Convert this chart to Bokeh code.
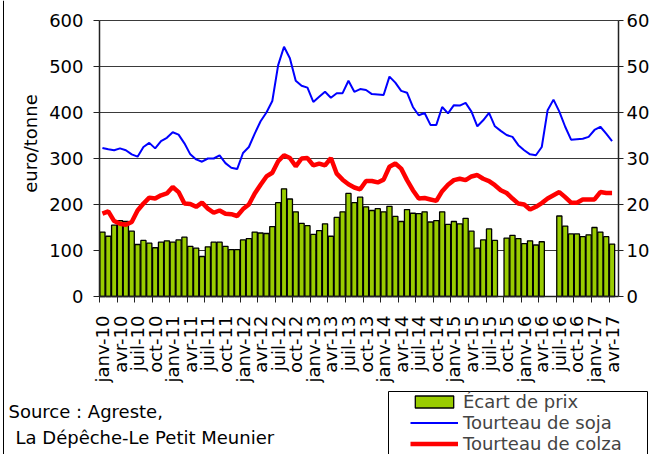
import math
from bokeh.plotting import figure
from bokeh.models import (LinearAxis, FixedTicker, Legend, LegendItem,
                          Label, Range1d, BoxAnnotation, Span)
from bokeh.embed import file_html
from bokeh.resources import INLINE

# ---------------- data ----------------
mois = ["janv", "févr", "mars", "avr", "mai", "juin",
        "juil", "août", "sept", "oct", "nov", "déc"]
months = [f"{mois[i % 12]}-{10 + i // 12}" for i in range(88)]  # janv-10 .. avr-17

ecart = [140, 131, 155, 165, 163, 142, 113, 122, 116, 106,
         118, 121, 118, 123, 129, 109, 105, 87, 108, 118,
         118, 109, 102, 102, 123, 126, 140, 138, 137, 152,
         204, 234, 212, 184, 159, 154, 135, 143, 158, 131,
         172, 184, 224, 204, 216, 195, 187, 191, 184, 196,
         174, 163, 189, 181, 180, 184, 162, 165, 184, 157,
         163, 158, 170, 142, 105, 123, 147, 122, None, 127,
         133, 126, 115, 121, 112, 119, None, None, 175, 153,
         136, 136, 130, 134, 150, 140, 130, 114]

soja = [323, 320, 318, 322, 318, 309, 304, 325, 334, 322,
        338, 345, 357, 352, 333, 309, 298, 293, 300, 300,
        307, 290, 280, 277, 312, 325, 354, 381, 400, 425,
        503, 543, 518, 469, 458, 454, 423, 434, 445, 432,
        442, 442, 469, 445, 451, 449, 440, 439, 438, 478,
        465, 447, 443, 412, 394, 399, 373, 373, 412, 398,
        416, 415, 421, 402, 370, 383, 399, 370, 360, 351,
        347, 329, 318, 309, 307, 325, 405, 428, 402, 369,
        341, 342, 343, 347, 362, 369, 354, 338]

colza = [180, 185, 164, 158, 156, 162, 187, 202, 215, 213,
         220, 224, 238, 227, 202, 201, 195, 204, 191, 182,
         187, 180, 179, 175, 190, 200, 224, 243, 261, 269,
         294, 307, 301, 283, 300, 301, 285, 289, 285, 301,
         267, 254, 244, 237, 233, 251, 251, 248, 254, 282,
         289, 278, 253, 231, 213, 214, 211, 208, 229, 243,
         253, 256, 253, 261, 264, 256, 251, 242, 231, 225,
         213, 202, 200, 189, 195, 203, 213, 220, 227, 216,
         204, 204, 211, 211, 211, 227, 225, 225]

y_ticks = [0, 100, 200, 300, 400, 500, 600]
y_title = "euro/tonne"
source_lines = ["Source : Agreste,", "La Dépêche-Le Petit Meunier"]
series_names = ["Écart de prix", "Tourteau de soja", "Tourteau de colza"]

FONT = "DejaVu Sans"
FS = "18px"

# ---------------- geometry (pixels of the page) ----------------
W, H = 650, 454
X0PX, X1PX = 99, 618      # plot area left / right
Y0PX, YTPX = 296, 20      # value 0 / value 600
X_END = 88.6
Y_TOP = 600
sx = (X1PX - X0PX) / X_END
sy = (Y0PX - YTPX) / Y_TOP
def dx(px):
    return (px - X0PX) / sx
def dy(py):
    return (Y0PX - py) / sy

p = figure(width=W, height=H, output_backend="svg", toolbar_location=None,
           x_range=Range1d(dx(0), dx(W)), y_range=Range1d(dy(H), dy(0)),
           x_axis_type=None, y_axis_type=None,
           min_border=0, min_border_left=0, min_border_right=0,
           min_border_top=0, min_border_bottom=0)
p.outline_line_color = None
p.background_fill_color = "white"
p.border_fill_color = "white"

# horizontal grid lines across the plot area
grid_y = [t for t in y_ticks if t > 0]
p.segment(x0=[0] * len(grid_y), x1=[X_END] * len(grid_y), y0=grid_y, y1=grid_y,
          line_color="#3a3a3a", line_width=1)

# bars
xb = [i + 0.5 for i, v in enumerate(ecart) if v is not None]
yb = [v for v in ecart if v is not None]
bars = p.vbar(x=xb, top=yb, bottom=0, width=0.88, fill_color="#99CC00",
              line_color="black", line_width=1.3)

xs = [i + 0.5 for i in range(len(months))]
l_soja = p.line(xs, soja, line_color="#0000FF", line_width=2)
l_colza = p.line(xs, colza, line_color="#FF0000", line_width=4.5)

yt = FixedTicker(ticks=y_ticks, minor_ticks=[])

# left axis
la = LinearAxis(ticker=yt, fixed_location=0, bounds=(0, Y_TOP),
                major_tick_out=6, major_tick_in=0,
                minor_tick_out=0, minor_tick_in=0, major_label_standoff=10,
                axis_line_color="#222222", axis_line_width=1.5,
                major_tick_line_color="#222222",
                major_label_text_font=FONT, major_label_text_font_size=FS,
                major_label_text_color="black")
p.add_layout(la, "left")

# right axis
ra = LinearAxis(ticker=yt, fixed_location=X_END, bounds=(0, Y_TOP),
                major_tick_out=5, major_tick_in=0,
                minor_tick_out=0, minor_tick_in=0, major_label_standoff=3,
                axis_line_color="#222222", axis_line_width=1.5,
                major_tick_line_color="#222222",
                major_label_text_font=FONT, major_label_text_font_size=FS,
                major_label_text_color="black")
p.add_layout(ra, "right")

# bottom axis: line and tick marks between quarters
tick_pos = [3 * k for k in range(30)]
ba = LinearAxis(ticker=FixedTicker(ticks=tick_pos, minor_ticks=[]),
                fixed_location=0, bounds=(0, X_END),
                major_tick_out=6, major_tick_in=0, minor_tick_out=0,
                minor_tick_in=0, major_label_text_color=None,
                axis_line_color="#222222", axis_line_width=1.5,
                major_tick_line_color="#222222")
p.add_layout(ba, "below")

# bottom labels centred on their months
lab_pos = [3 * k + 0.5 for k in range(30)]
bl = LinearAxis(ticker=FixedTicker(ticks=lab_pos, minor_ticks=[]),
                fixed_location=0, bounds=(0, X_END),
                major_label_overrides={pos: months[3 * k] for k, pos in enumerate(lab_pos)},
                major_label_orientation=math.pi / 2,
                major_tick_out=0, major_tick_in=0, minor_tick_out=0,
                minor_tick_in=0, major_label_standoff=19,
                axis_line_color=None, major_tick_line_color=None,
                minor_tick_line_color=None,
                major_label_text_font=FONT, major_label_text_font_size=FS,
                major_label_text_color="black")
p.add_layout(bl, "below")

# y axis title
p.add_layout(Label(x=dx(30), y=dy(143), text=y_title, angle=math.pi / 2,
                   text_font=FONT, text_font_size=FS, text_align="center",
                   text_baseline="middle", text_color="black"))

# source text
p.add_layout(Label(x=dx(8), y=dy(411), text=source_lines[0], text_font=FONT,
                   text_font_size=FS, text_align="left", text_baseline="middle",
                   text_color="black"))
p.add_layout(Label(x=dx(15), y=dy(437), text=source_lines[1], text_font=FONT,
                   text_font_size=FS, text_align="left", text_baseline="middle",
                   text_color="black"))

# chart-area border (left edge) and legend frame
p.add_layout(Span(location=dx(3), dimension="height", line_color="black",
                  line_width=1))
p.add_layout(BoxAnnotation(left=dx(388), right=dx(647), top=dy(391), bottom=dy(470),
                           fill_alpha=0, fill_color=None,
                           line_color="black", line_width=1, line_alpha=1))

LEG_TOP = 395
legend = Legend(items=[LegendItem(label=series_names[0], renderers=[bars]),
                       LegendItem(label=series_names[1], renderers=[l_soja]),
                       LegendItem(label=series_names[2], renderers=[l_colza])],
                location=(410, H - (LEG_TOP + 59)),
                padding=0, margin=0, spacing=-2,
                glyph_width=48, glyph_height=15, label_height=19,
                label_standoff=5, label_text_font=FONT,
                label_text_font_size=FS, label_text_baseline="middle",
                border_line_color=None, background_fill_alpha=0)
p.add_layout(legend, "center")

open("out.html", "w").write(file_html(p, INLINE))
